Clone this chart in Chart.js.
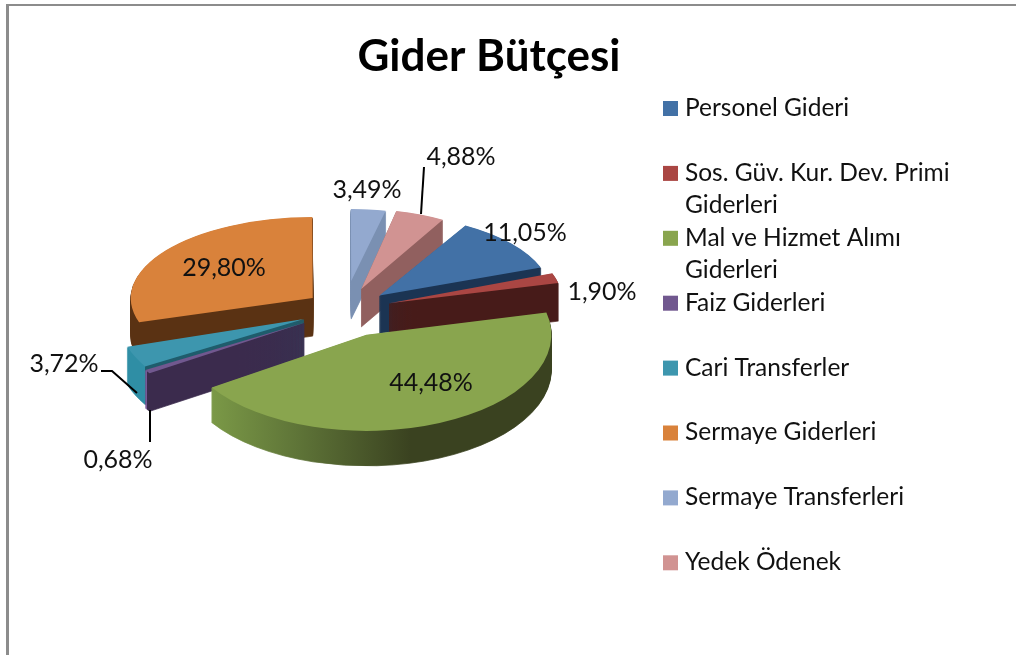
<!DOCTYPE html>
<html lang="tr">
<head>
  <meta charset="UTF-8">
  <title>Gider Bütçesi</title>
  <script src="https://cdn.jsdelivr.net/npm/chart.js"></script>
  <style>
    html, body { margin: 0; padding: 0; background: #fff; overflow: hidden; }
    #frame { position: absolute; left: 6px; top: 4px; right: -4px; bottom: -4px; border: 2px solid #8c8c8c; border-left-width: 3px; }
    #giderChart { position: absolute; left: 0; top: 0; }
  </style>
</head>
<body>

<div id="frame"></div>
<canvas id="giderChart" width="978" height="655"></canvas>

<script>
  const categories = ['Personel Gideri', 'Sos. Güv. Kur. Dev. Primi Giderleri', 'Mal ve Hizmet Alımı Giderleri', 'Faiz Giderleri', 'Cari Transferler', 'Sermaye Giderleri', 'Sermaye Transferleri', 'Yedek Ödenek'];
  const values = [11.05, 1.90, 44.48, 0.68, 3.72, 29.80, 3.49, 4.88];

  const topColors = ['#4271a6', '#aa4643', '#89a54e', '#71588f', '#3d96ae', '#d9823b', '#93a9cf', '#d19392'];
  // side colours as gradient stops across the slice, left to right
  const sideStops = [
    [[0, '#1b3453']],
    [[0, '#471b19']],
    [[0.06, '#7d9c48'], [0.31, '#5f7538'], [0.62, '#3a4220']],
    [[0.075, '#7a5a9a'], [0.076, '#3b2b4d']],
    [[0.07, '#2f8ea5'], [0.071, '#1f5c6c']],
    [[0, '#5a3213']],
    [[0, '#7a90b2']],
    [[0, '#91605f']]
  ];
  // fake 3d: how far each slice is pulled out, its radius, squash and height
  const explode = [45, 46, 54, 48, 45, 40, 58, 45];
  const sliceRadius = [172, 174, 185, 185, 185, 182, 160, 163];
  const squash = [0.47, 0.5, 0.52, 0.5, 0.5, 0.445, 0.45, 0.49];
  const depth = [38, 38, 35, 38, 38, 38, 38, 38];
  const baseRadius = 185;

  // label centres and leader lines
  const labelPos = [[525, 233], [602, 292], [431, 383], [118, 460], [64, 364], [224, 268], [367, 190], [461, 157]];
  const leaders = [null, null, null, [[150, 410], [150, 442]], [[101, 371], [112, 371], [137, 393]], null, null, [[424, 167], [421, 214]]];

  const legendX = 663, legendTop = 108, legendStep = 64.9, legendWrap = 280;

  function pieSides(chart) {
    const arcs = chart.getDatasetMeta(0).data;
    const ctx = chart.ctx;
    const order = arcs.map((a, i) => i).sort((a, b) => {
      return Math.sin((arcs[a].startAngle + arcs[a].endAngle) / 2) - Math.sin((arcs[b].startAngle + arcs[b].endAngle) / 2);
    });

    order.forEach(i => {
      const arc = arcs[i];
      const saved = arc.options;
      const mid = (arc.startAngle + arc.endAngle) / 2;
      const ox = Math.cos(mid) * explode[i];
      const oy = Math.sin(mid) * explode[i];
      const r = sliceRadius[i] / arc.outerRadius;

      const place = k => {
        ctx.translate(arc.x + ox, arc.y + oy * 0.5 + k);
        ctx.scale(r, r * squash[i]);
        ctx.translate(-arc.x, -arc.y);
      };

      const grad = ctx.createLinearGradient(arc.x - baseRadius, 0, arc.x + baseRadius, 0);
      sideStops[i].forEach(s => grad.addColorStop(s[0], s[1]));

      // thin border on the side layers so narrow tips do not fade out
      arc.options = Object.assign({}, saved, { offset: 0, borderWidth: 1, borderColor: grad, backgroundColor: grad });
      for (let k = depth[i]; k > 0; k--) {
        ctx.save();
        place(k);
        arc.draw(ctx);
        ctx.restore();
      }

      arc.options = Object.assign({}, saved, { offset: 0, borderWidth: 0 });
      ctx.save();
      place(0);
      arc.draw(ctx);
      ctx.restore();
      arc.options = saved;
    });
  }

  const pie3d = {
    id: 'pie3d',
    afterLayout(chart) {
      // centre the title over the whole canvas, not the pie
      chart.titleBlock.right = chart.width;
    },
    beforeDatasetDraw(chart) {
      pieSides(chart);
      return false;
    },
    afterDraw(chart) {
      const ctx = chart.ctx;
      ctx.save();
      ctx.font = '25px Lato, sans-serif';
      ctx.fillStyle = '#111';
      ctx.textAlign = 'center';
      ctx.textBaseline = 'middle';
      values.forEach((v, i) => {
        ctx.fillText(v.toFixed(2).replace('.', ',') + '%', labelPos[i][0], labelPos[i][1]);
      });

      ctx.strokeStyle = '#000';
      ctx.lineWidth = 2;
      leaders.forEach(l => {
        if (!l) return;
        ctx.beginPath();
        l.forEach((p, n) => n ? ctx.lineTo(p[0], p[1]) : ctx.moveTo(p[0], p[1]));
        ctx.stroke();
      });

      // legend, wrapped by hand since the built in one only does single lines
      ctx.font = '24.5px Lato, sans-serif';
      ctx.textAlign = 'left';
      categories.forEach((name, i) => {
        const y = legendTop + i * legendStep;
        ctx.fillStyle = topColors[i];
        ctx.fillRect(legendX, y - 7, 15, 15);
        ctx.fillStyle = '#111';
        let line = '', row = 0;
        name.split(' ').forEach(word => {
          const next = line ? line + ' ' + word : word;
          if (ctx.measureText(next).width > legendWrap) {
            ctx.fillText(line, legendX + 22, y + row * 32.5);
            line = word;
            row++;
          } else {
            line = next;
          }
        });
        ctx.fillText(line, legendX + 22, y + row * 32.5);
      });
      ctx.restore();
    }
  };

  new Chart(document.getElementById('giderChart').getContext('2d'), {
    type: 'pie',
    data: {
      labels: categories,
      datasets: [{
        data: values,
        backgroundColor: topColors,
        borderWidth: 0,
        offset: explode.map(e => e * 4)
      }]
    },
    options: {
      responsive: false,
      animation: false,
      rotation: 30,
      radius: baseRadius,
      layout: { padding: { right: 288, bottom: 123 } },
      plugins: {
        legend: { display: false },
        tooltip: { enabled: false },
        title: {
          display: true,
          text: 'Gider Bütçesi',
          color: '#000',
          font: { family: 'Lato, sans-serif', size: 44, weight: 'bold' },
          padding: { top: 30, bottom: 5 }
        }
      }
    },
    plugins: [pie3d]
  });
</script>

</body>
</html>
